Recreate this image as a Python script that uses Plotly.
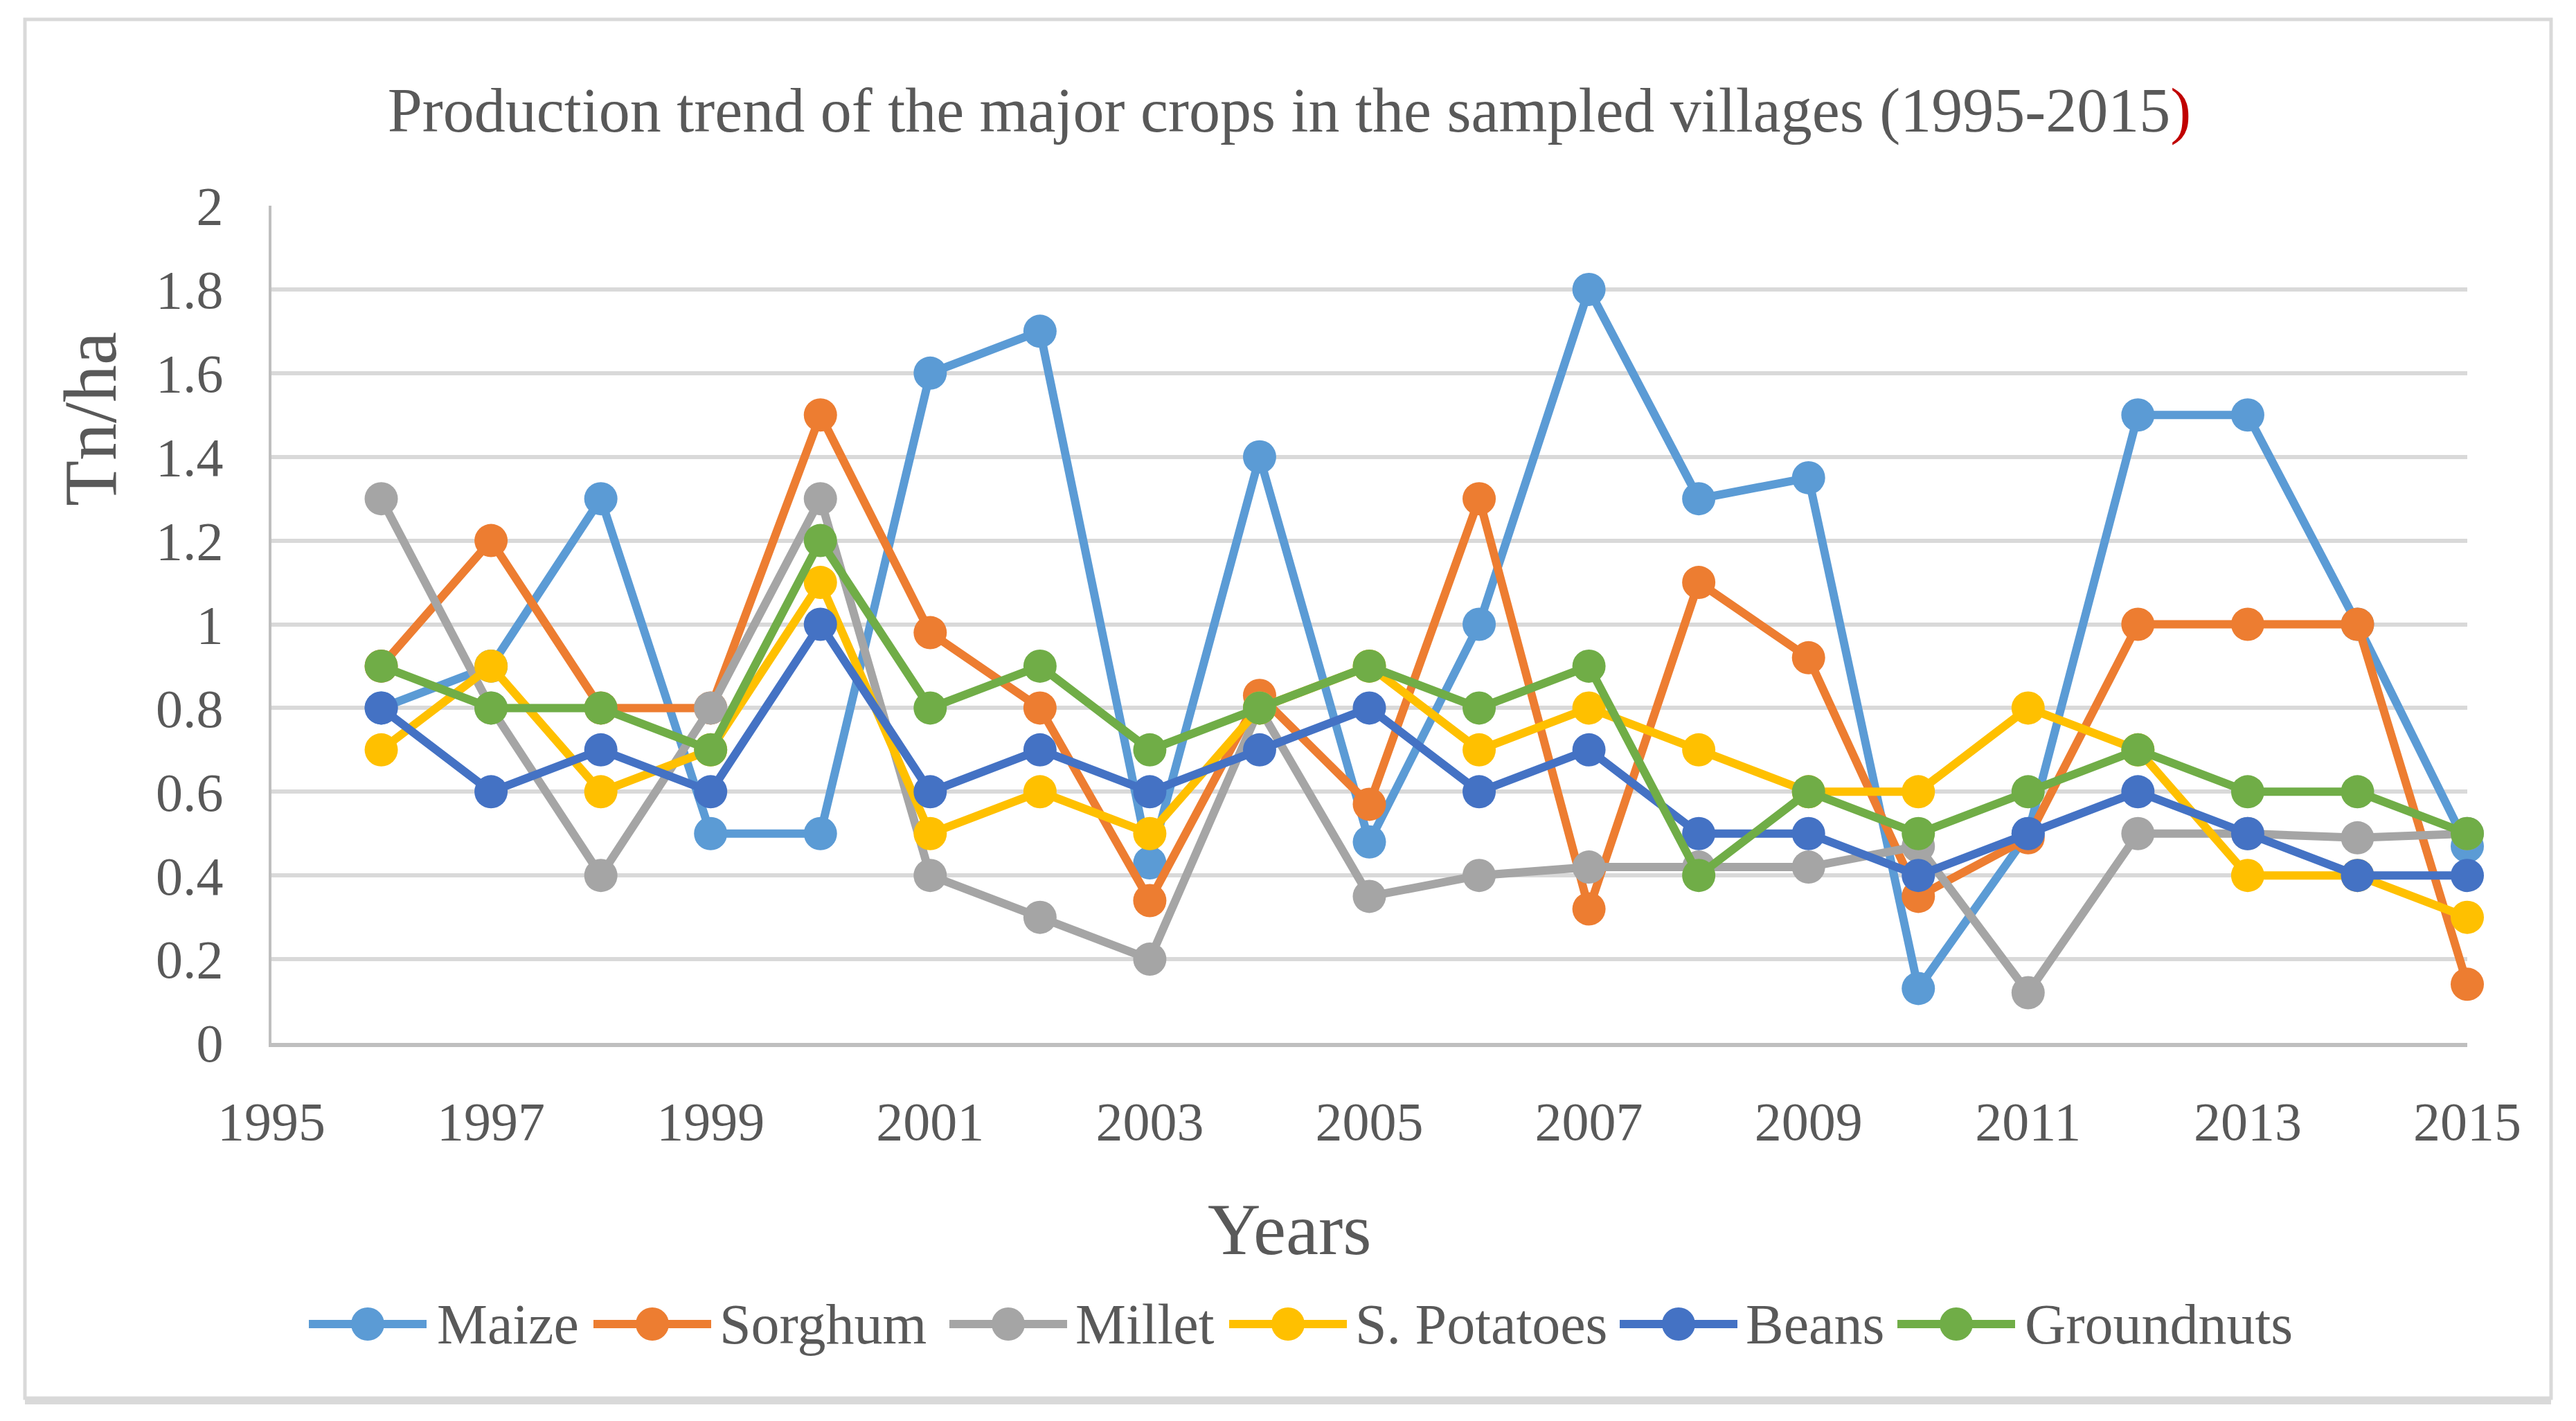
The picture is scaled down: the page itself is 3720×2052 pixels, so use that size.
"""
Production trend of the major crops in the sampled villages (1995-2015).
Values read off the original Excel line chart (Tn/ha).
"""

import plotly.graph_objects as go

years = list(range(1996, 2016))

maize = [0.8, 0.9, 1.3, 0.5, 0.5, 1.6, 1.7, 0.43, 1.4, 0.48,
         1.0, 1.8, 1.3, 1.35, 0.13, 0.5, 1.5, 1.5, 1.0, 0.47]
sorghum = [0.9, 1.2, 0.8, 0.8, 1.5, 0.98, 0.8, 0.34, 0.83, 0.57,
           1.3, 0.32, 1.1, 0.92, 0.35, 0.49, 1.0, 1.0, 1.0, 0.14]
millet = [1.3, 0.8, 0.4, 0.8, 1.3, 0.4, 0.3, 0.2, 0.8, 0.35,
          0.4, 0.42, 0.42, 0.42, 0.47, 0.12, 0.5, 0.5, 0.49, 0.5]
potatoes = [0.7, 0.9, 0.6, 0.7, 1.1, 0.5, 0.6, 0.5, 0.8, 0.9,
            0.7, 0.8, 0.7, 0.6, 0.6, 0.8, 0.7, 0.4, 0.4, 0.3]
beans = [0.8, 0.6, 0.7, 0.6, 1.0, 0.6, 0.7, 0.6, 0.7, 0.8,
         0.6, 0.7, 0.5, 0.5, 0.4, 0.5, 0.6, 0.5, 0.4, 0.4]
groundnuts = [0.9, 0.8, 0.8, 0.7, 1.2, 0.8, 0.9, 0.7, 0.8, 0.9,
              0.8, 0.9, 0.4, 0.6, 0.5, 0.6, 0.7, 0.6, 0.6, 0.5]

series_names = ['Maize', 'Sorghum', 'Millet', 'S. Potatoes', 'Beans', 'Groundnuts']
series_values = [maize, sorghum, millet, potatoes, beans, groundnuts]
series_colors = ['#5B9BD5', '#ED7D31', '#A5A5A5', '#FFC000', '#4472C4', '#70AD47']

x_ticks = list(range(1995, 2016, 2))
y_ticks = [0, 0.2, 0.4, 0.6, 0.8, 1, 1.2, 1.4, 1.6, 1.8, 2]
y_labels = ['0', '0.2', '0.4', '0.6', '0.8', '1', '1.2', '1.4', '1.6', '1.8', '2']

font_family = 'Liberation Serif, Times New Roman, serif'
text_color = '#595959'

# plot area in screen pixels (left, right, top, bottom)
PL, PR, PT, PB = 392, 3563, 297, 1506


def px_x(px):
    return (px - PL) / (PR - PL)


def px_y(py):
    return (PB - py) / (PB - PT)


fig = go.Figure()
# one trace per crop, later ones on top (same order as Excel)
for name, values, color in zip(series_names, series_values, series_colors):
    fig.add_trace(go.Scatter(
        x=years,
        y=values,
        name=name,
        mode='lines+markers',
        line={'color': color, 'width': 12},
        marker={'color': color, 'size': 48},
        cliponaxis=False,
        showlegend=False,
    ))

# page body has an 8px margin, so shrink the figure a bit
W, H, M = 3720 - 16, 2052 - 16, 8
fig.update_layout(
    width=W,
    height=H,
    margin={'l': PL - M, 'r': W - (PR - M), 't': PT - M, 'b': H - (PB - M)},
    paper_bgcolor='white',
    plot_bgcolor='white',
    font={'family': font_family, 'color': text_color, 'size': 78},
    title={
        'text': 'Production trend of the major crops in the sampled villages '
                '(1995-2015<span style="color:#C00000">)</span>',
        'x': (1862 - M) / W, 'xanchor': 'center',
        'y': 1 - (158 - M) / H, 'yanchor': 'middle',
        'font': {'size': 90, 'color': text_color, 'family': font_family},
    },
    showlegend=False,
)

fig.update_xaxes(
    range=[1995, 2015],
    tickvals=x_ticks,
    showgrid=False,
    zeroline=False,
    showline=True,
    linecolor='#BFBFBF',
    linewidth=6,
    ticks='',
    ticklabelstandoff=40,
    tickfont={'size': 78, 'color': text_color},
)
fig.update_yaxes(
    range=[0, 2],
    tickvals=y_ticks,
    ticktext=y_labels,
    showgrid=True,
    gridcolor='#D9D9D9',
    gridwidth=6,
    zeroline=False,
    showline=True,
    linecolor='#BFBFBF',
    linewidth=4,
    ticks='',
    ticklabelstandoff=50,
    tickfont={'size': 78, 'color': text_color},
)

# axis titles centred on the whole chart like in Excel
fig.add_annotation(text='Years', xref='paper', yref='paper',
                   x=px_x(1862), y=px_y(1775), xanchor='center', yanchor='middle',
                   showarrow=False, font={'size': 106, 'color': text_color})
fig.add_annotation(text='Tn/ha', xref='paper', yref='paper',
                   x=px_x(130), y=px_y(605), xanchor='center', yanchor='middle',
                   textangle=-90, showarrow=False, font={'size': 108, 'color': text_color})

# Excel style legend: long line key with a big marker, drawn by hand
legend_key_x = [531, 942, 1456, 1860, 2424, 2825]
legend_text_x = [629, 1037, 1551, 1955, 2519, 2922]
legend_y = px_y(1912)
for name, color, kx, tx in zip(series_names, series_colors, legend_key_x, legend_text_x):
    fig.add_shape(type='line', xref='paper', yref='paper',
                  xsizemode='pixel', ysizemode='pixel',
                  xanchor=px_x(kx), yanchor=legend_y,
                  x0=-85, x1=85, y0=0, y1=0,
                  line={'color': color, 'width': 12})
    fig.add_shape(type='circle', xref='paper', yref='paper',
                  xsizemode='pixel', ysizemode='pixel',
                  xanchor=px_x(kx), yanchor=legend_y,
                  x0=-24, x1=24, y0=-24, y1=24,
                  fillcolor=color, line={'color': color, 'width': 0})
    fig.add_annotation(text=name, xref='paper', yref='paper',
                       x=px_x(tx), y=legend_y, xanchor='left', yanchor='middle',
                       showarrow=False, font={'size': 82, 'color': text_color})

# chart border, with the slightly heavier bottom edge of the original
fig.add_shape(type='rect', xref='paper', yref='paper',
              x0=px_x(36), x1=px_x(3684), y0=px_y(2019), y1=px_y(28),
              line={'color': '#D9D9D9', 'width': 5}, layer='below')
fig.add_shape(type='line', xref='paper', yref='paper',
              x0=px_x(36), x1=px_x(3684), y0=px_y(2024), y1=px_y(2024),
              line={'color': '#D9D9D9', 'width': 8}, layer='below')

fig.write_html("out.html")
